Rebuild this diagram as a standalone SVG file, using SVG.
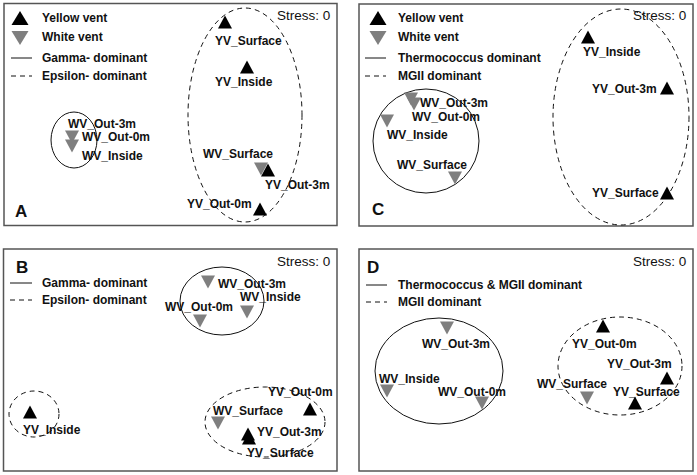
<svg xmlns="http://www.w3.org/2000/svg" xmlns:xlink="http://www.w3.org/1999/xlink" width="697" height="475" viewBox="0 0 697 475">
<style>
text{font-family:"Liberation Sans",Arial,sans-serif;fill:#111}
.l{font-size:12px;font-weight:bold}
.s{font-size:13.5px}
.p{font-size:17px;font-weight:bold}
.frame{fill:#fff;stroke:#555;stroke-width:1.5}
.sol{fill:none;stroke:#111;stroke-width:1}
.das{fill:none;stroke:#111;stroke-width:1;stroke-dasharray:5 4}
.yv{fill:#000}
.wv{fill:#7f7f7f}
</style>
<defs>
<path id="up" d="M0,-6.5 L7,6.5 L-7,6.5 Z"/>
<path id="dn" d="M-7,-6.5 L7,-6.5 L0,6.5 Z"/>
<path id="upL" d="M0,-7 L8.5,7 L-8.5,7 Z"/>
<path id="dnL" d="M-8.5,-7 L8.5,-7 L0,7 Z"/>
</defs>
<rect width="697" height="475" fill="#fff"/>

<!-- Panel A -->
<g id="panelA">
<rect class="frame" x="4" y="3.5" width="333" height="222"/>
<g id="A-legend">
<use href="#upL" x="20" y="18" class="yv"/><text class="l" x="42" y="22">Yellow vent</text>
<use href="#dnL" x="20" y="38" class="wv"/><text class="l" x="42" y="41">White vent</text>
<line class="sol" x1="11" y1="58" x2="32" y2="58"/><text class="l" x="42" y="62">Gamma- dominant</text>
<line class="das" x1="11" y1="76" x2="32" y2="76"/><text class="l" x="42" y="80">Epsilon- dominant</text>
</g>
<text class="s" x="277" y="20">Stress: 0</text>
<text class="p" x="15" y="217">A</text>
<ellipse id="A-gamma" class="sol" cx="74" cy="140" rx="23" ry="28"/>
<ellipse id="A-epsilon" class="das" cx="245" cy="115" rx="57" ry="107"/>
<g id="A-WV_Out-3m"><use href="#dn" x="72" y="137" class="wv"/><text class="l" x="68" y="128">WV_Out-3m</text></g>
<g id="A-WV_Out-0m"><use href="#dn" x="72" y="146" class="wv"/><text class="l" x="82" y="141">WV_Out-0m</text></g>
<g id="A-WV_Inside"><text class="l" x="82" y="160">WV_Inside</text></g>
<g id="A-YV_Surface"><use href="#up" x="225" y="22" class="yv"/><text class="l" x="215" y="45">YV_Surface</text></g>
<g id="A-YV_Inside"><use href="#up" x="247" y="67" class="yv"/><text class="l" x="215" y="86">YV_Inside</text></g>
<g id="A-WV_Surface"><use href="#dn" x="261" y="169" class="wv"/><text class="l" x="203" y="158">WV_Surface</text></g>
<g id="A-YV_Out-3m"><use href="#up" x="268" y="170" class="yv"/><text class="l" x="265" y="189">YV_Out-3m</text></g>
<g id="A-YV_Out-0m"><use href="#up" x="260" y="209" class="yv"/><text class="l" x="187" y="208">YV_Out-0m</text></g>
</g>

<!-- Panel C -->
<g id="panelC">
<rect class="frame" x="359" y="4" width="334" height="222"/>
<g id="C-legend">
<use href="#upL" x="378" y="18" class="yv"/><text class="l" x="398" y="22">Yellow vent</text>
<use href="#dnL" x="378" y="38" class="wv"/><text class="l" x="398" y="41">White vent</text>
<line class="sol" x1="365" y1="58" x2="386" y2="58"/><text class="l" x="398" y="62">Thermococcus dominant</text>
<line class="das" x1="365" y1="76" x2="386" y2="76"/><text class="l" x="398" y="80">MGII dominant</text>
</g>
<text class="s" x="633" y="20">Stress: 0</text>
<text class="p" x="372" y="215">C</text>
<ellipse id="C-thermo" class="sol" cx="426" cy="141" rx="53" ry="52"/>
<ellipse id="C-mgii" class="das" cx="621" cy="117" rx="68" ry="108"/>
<g id="C-WV_Out-3m"><use href="#dn" x="411" y="99" class="wv"/><text class="l" x="420" y="107">WV_Out-3m</text></g>
<g id="C-WV_Out-0m"><use href="#dn" x="414" y="104" class="wv"/><text class="l" x="412" y="121">WV_Out-0m</text></g>
<g id="C-WV_Inside"><use href="#dn" x="387" y="121" class="wv"/><text class="l" x="387" y="139">WV_Inside</text></g>
<g id="C-WV_Surface"><use href="#dn" x="455" y="178" class="wv"/><text class="l" x="397" y="169">WV_Surface</text></g>
<g id="C-YV_Inside"><use href="#up" x="588" y="37" class="yv"/><text class="l" x="583" y="56">YV_Inside</text></g>
<g id="C-YV_Out-3m"><use href="#up" x="667" y="88" class="yv"/><text class="l" x="592" y="93">YV_Out-3m</text></g>
<g id="C-YV_Surface"><use href="#up" x="667" y="193" class="yv"/><text class="l" x="592" y="197">YV_Surface</text></g>
</g>

<!-- Panel B -->
<g id="panelB">
<rect class="frame" x="3.5" y="249" width="333.5" height="222"/>
<g id="B-legend">
<line class="sol" x1="10" y1="283" x2="32" y2="283"/><text class="l" x="42" y="287">Gamma- dominant</text>
<line class="das" x1="10" y1="300" x2="32" y2="300"/><text class="l" x="42" y="304">Epsilon- dominant</text>
</g>
<text class="s" x="277" y="266">Stress: 0</text>
<text class="p" x="16" y="273">B</text>
<ellipse id="B-gamma" class="sol" cx="222" cy="301" rx="42" ry="34"/>
<ellipse id="B-eps1" class="das" cx="34" cy="414" rx="25" ry="23"/>
<ellipse id="B-eps2" class="das" cx="265" cy="422" rx="60" ry="35"/>
<g id="B-WV_Out-3m"><use href="#dn" x="208" y="282" class="wv"/><text class="l" x="218" y="288">WV_Out-3m</text></g>
<g id="B-WV_Inside"><use href="#dn" x="247" y="312" class="wv"/><text class="l" x="240" y="301">WV_Inside</text></g>
<g id="B-WV_Out-0m"><use href="#dn" x="200" y="321" class="wv"/><text class="l" x="165" y="311">WV_Out-0m</text></g>
<g id="B-YV_Inside"><use href="#up" x="30" y="412" class="yv"/><text class="l" x="23" y="434">YV_Inside</text></g>
<g id="B-YV_Out-0m"><use href="#up" x="310" y="409" class="yv"/><text class="l" x="268" y="396">YV_Out-0m</text></g>
<g id="B-WV_Surface"><use href="#dn" x="218" y="423" class="wv"/><text class="l" x="213" y="415">WV_Surface</text></g>
<g id="B-YV_Out-3m"><use href="#up" x="248" y="434" class="yv"/><text class="l" x="257" y="436">YV_Out-3m</text></g>
<g id="B-YV_Surface"><use href="#up" x="249" y="438" class="yv"/><text class="l" x="247" y="457">YV_Surface</text></g>
</g>

<!-- Panel D -->
<g id="panelD">
<rect class="frame" x="359" y="249" width="334" height="222"/>
<g id="D-legend">
<line class="sol" x1="366" y1="285" x2="387" y2="285"/><text class="l" x="398" y="289">Thermococcus &amp; MGII dominant</text>
<line class="das" x1="366" y1="302" x2="387" y2="302"/><text class="l" x="398" y="306">MGII dominant</text>
</g>
<text class="s" x="633" y="266">Stress: 0</text>
<text class="p" x="367" y="273">D</text>
<ellipse id="D-thermo" class="sol" cx="439" cy="371" rx="64" ry="53"/>
<ellipse id="D-mgii" class="das" cx="620" cy="366" rx="62" ry="49"/>
<g id="D-WV_Out-3m"><use href="#dn" x="447" y="328" class="wv"/><text class="l" x="422" y="348">WV_Out-3m</text></g>
<g id="D-WV_Inside"><use href="#dn" x="387" y="391" class="wv"/><text class="l" x="379" y="383">WV_Inside</text></g>
<g id="D-WV_Out-0m"><use href="#dn" x="482" y="403" class="wv"/><text class="l" x="438" y="396">WV_Out-0m</text></g>
<g id="D-YV_Out-0m"><use href="#up" x="603" y="326" class="yv"/><text class="l" x="572" y="348">YV_Out-0m</text></g>
<g id="D-YV_Out-3m"><use href="#up" x="667" y="378" class="yv"/><text class="l" x="607" y="368">YV_Out-3m</text></g>
<g id="D-WV_Surface"><use href="#dn" x="587" y="398" class="wv"/><text class="l" x="537" y="388">WV_Surface</text></g>
<g id="D-YV_Surface"><use href="#up" x="635" y="403" class="yv"/><text class="l" x="613" y="396">YV_Surface</text></g>
</g>
<g id="connectors"/>
</svg>
